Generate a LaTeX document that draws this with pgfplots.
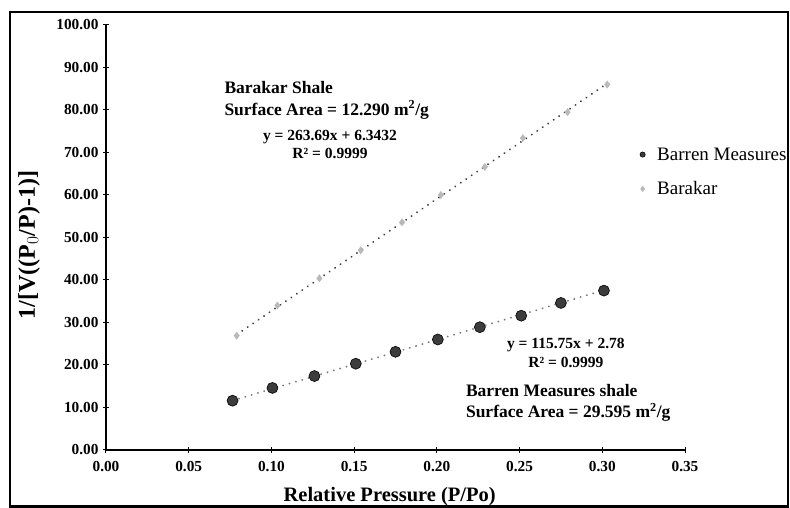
\documentclass[border=0pt]{standalone}
\usepackage{pgfplots}
\pgfplotsset{compat=1.18}
\usepackage{fontspec}
\setmainfont{Liberation Serif}
\definecolor{ptdark}{RGB}{60,60,60}
\definecolor{ptlight}{RGB}{185,185,185}
\definecolor{trend}{RGB}{120,120,120}
\begin{document}
\begin{tikzpicture}
\path[use as bounding box] (0,0) rectangle (790pt,508pt);
\draw[line width=2.5pt] (10pt,1.5pt) rectangle (788pt,496pt);
\begin{axis}[
  scale only axis,
  width=579pt, height=425pt,
  at={(106pt,58pt)}, anchor=south west,
  xmin=0, xmax=0.35, ymin=0, ymax=100,
  axis x line=bottom, axis y line=left,
  axis line style={line width=1.4pt,-},
  xtick={0,0.05,...,0.35}, ytick={0,10,...,100},
  tick style={line width=1pt,black},
  major tick length=6pt,
  tick align=center,
  /pgf/number format/assume math mode=true,
  /pgf/number format/fixed,
  /pgf/number format/fixed zerofill,
  /pgf/number format/precision=2,
  xticklabel style={font=\fontsize{15.3}{17}\selectfont\bfseries, yshift=-5pt},
  yticklabel style={font=\fontsize{15.3}{17}\selectfont\bfseries, xshift=-1pt},
  xlabel={Relative Pressure (P/Po)},
  xlabel style={font=\fontsize{20.5}{22}\selectfont\bfseries, at={(axis description cs:0.49,-0.11)}, anchor=center},
  ylabel={1/[V((P$_0$/P)-1)]},
  ylabel style={font=\fontsize{24}{26}\selectfont\bfseries, at={(axis description cs:-0.133,0.482)}, anchor=center},
  legend style={draw=none, fill=none, at={(0.922,0.712)}, anchor=north west,
    font=\fontsize{19}{21}\selectfont, row sep=20pt, inner sep=0pt,
    nodes={inner xsep=0pt, inner ysep=0pt},
    /tikz/every odd column/.append style={column sep=12pt}},
  legend cell align=left,
  clip=false,
]
\addplot[only marks, mark=*, mark size=5.5pt, mark options={fill=ptdark, draw=black, line width=0.6pt},
  legend image post style={mark size=2.6pt}]
coordinates {(0.0765,11.6) (0.1006,14.6) (0.126,17.4) (0.151,20.3) (0.175,23.1)
 (0.2006,26.0) (0.226,28.9) (0.251,31.6) (0.275,34.6) (0.301,37.5)};
\addlegendentry{Barren Measures}
\addplot[only marks, mark=diamond*, mark size=3.6pt, color=ptlight,
  legend image post style={mark size=2.8pt}]
coordinates {(0.079,26.9) (0.1036,34.0) (0.129,40.4) (0.154,47.0) (0.179,53.6)
 (0.2024,60.0) (0.229,66.6) (0.252,73.4) (0.279,79.5) (0.303,86.0)};
\addlegendentry{Barakar}
\addplot[forget plot, color=trend, line width=2pt, line cap=round, dash pattern=on 0.1pt off 6.5pt]
coordinates {(0.0765,11.64) (0.301,37.62)};
\addplot[forget plot, color=ptdark, line width=2pt, line cap=round, dash pattern=on 0.1pt off 6.5pt]
coordinates {(0.079,27.17) (0.303,86.24)};
\node[anchor=west, font=\fontsize{17.5}{19}\selectfont\bfseries] at (axis cs:0.0695,85.2) {Barakar Shale};
\node[anchor=west, font=\fontsize{17.5}{19}\selectfont\bfseries] at (axis cs:0.0695,80.0) {Surface Area = 12.290 m$^{\mathbf 2}$/g};
\node[font=\fontsize{15.5}{17}\selectfont\bfseries] at (axis cs:0.1354,73.6) {y = 263.69x + 6.3432};
\node[font=\fontsize{15.5}{17}\selectfont\bfseries] at (axis cs:0.1354,69.8) {R² = 0.9999};
\node[font=\fontsize{15.5}{17}\selectfont\bfseries] at (axis cs:0.278,24.7) {y = 115.75x + 2.78};
\node[font=\fontsize{15.5}{17}\selectfont\bfseries] at (axis cs:0.278,20.6) {R² = 0.9999};
\node[anchor=west, font=\fontsize{17.5}{19}\selectfont\bfseries] at (axis cs:0.2155,13.9) {Barren Measures shale};
\node[anchor=west, font=\fontsize{17.5}{19}\selectfont\bfseries] at (axis cs:0.2155,8.9) {Surface Area = 29.595 m$^{\mathbf 2}$/g};
\end{axis}
\end{tikzpicture}
\end{document}
